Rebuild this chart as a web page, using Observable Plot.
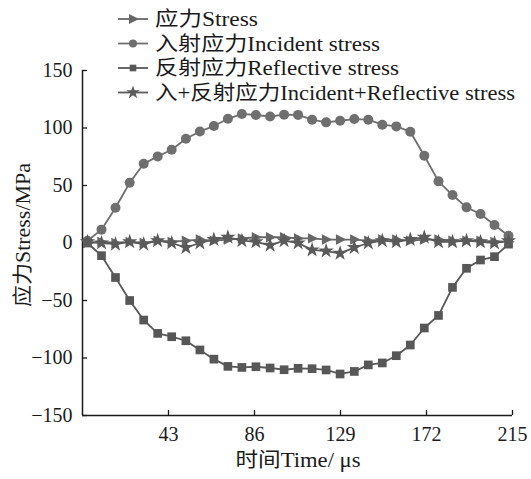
<!DOCTYPE html>
<html>
<head>
<meta charset="utf-8">
<script src="https://cdn.jsdelivr.net/npm/d3@7"></script>
<script src="https://cdn.jsdelivr.net/npm/@observablehq/plot@0.6"></script>
<style>
  html, body { margin: 0; padding: 0; background: #fff; }
  #chart { position: relative; width: 531px; height: 479px; }
</style>
</head>
<body>
<div id="chart"></div>
<script>
// ---- data ----
const time = [2.5, 9.5, 16.5, 23.6, 30.6, 37.6, 44.6, 51.7, 58.7, 65.7, 72.7, 79.7, 86.7, 93.8, 100.8, 107.8,
  114.8, 121.8, 128.8, 135.9, 142.9, 149.9, 156.9, 163.9, 170.9, 178.0, 185.0, 192.0, 199.0, 206.0, 213.0];
const stress = [0, 1, 0, 1, 0, 2, 1, 2, 3, 2, 3, 4, 5, 5, 5, 4, 4, 3, 3, 3, 2, 3, 3, 2, 3, 3, 2, 2, 2, 1, 1];
const incident = [2, 11.6, 30.7, 52.4, 68.9, 75.3, 81.1, 90.7, 97, 101.7, 108, 112.2, 111.3, 110, 111.6, 111.4,
  107.2, 104.9, 106.3, 107.8, 107.2, 102.9, 101.4, 96.8, 75.9, 53.6, 41.7, 31, 25.2, 15.7, 6.3];
const reflective = [0, -11, -30, -50, -67, -78.6, -81.5, -85, -93, -101, -107.3, -108.2, -107.6, -108.7, -110.2, -109,
  -109.3, -110.4, -113.9, -111.7, -106, -104.3, -98, -88.7, -73.9, -63, -38.6, -22, -14.8, -11.9, -1];
const incidentPlusReflective = [1, 0, -1, 1, -1, 2, 0, -4, 0, 3, 5, 2, 1, -2, 2, 0, -6, -7, -9, -4, 0, 2, 1, 3, 5, 1, 1, 2, 1, 0, 2];

const xTicks = [43, 86, 129, 172, 215];
const yTicks = [-150, -100, -50, 0, 50, 100, 150];
const legendLabels = ["应力Stress", "入射应力Incident stress", "反射应力Reflective stress", "入+反射应力Incident+Reflective stress"];
const xLabel = "时间Time/ μs";
const yLabel = "应力Stress/MPa";

// ---- styling ----
const font = "'Liberation Serif', 'DejaVu Serif', 'Noto Sans CJK SC', serif";
const fs = 20;
const cStress = "#676767", cInc = "#6f6f6f", cRef = "#575757", cSum = "#5a5a5a";

const triRight = {
  draw(ctx, size) {
    const s = Math.sqrt(size / Math.PI);
    ctx.moveTo(1.2 * s, 0);
    ctx.lineTo(-0.8 * s, -s);
    ctx.lineTo(-0.8 * s, s);
    ctx.closePath();
  }
};

const rows = time.map((t, i) => ({
  t, stress: stress[i], incident: incident[i], reflective: reflective[i], sum: incidentPlusReflective[i]
}));

const series = [
  {key: "incident", color: cInc, symbol: "circle", r: 5},
  {key: "reflective", color: cRef, symbol: "square", r: 4.9},
  {key: "stress", color: cStress, symbol: triRight, r: 5.2},
  {key: "sum", color: cSum, symbol: "star", r: 4.8}
];

const marks = [];
for (const s of series) {
  marks.push(Plot.line(rows, {x: "t", y: s.key, stroke: s.color, strokeWidth: 1.8}));
  marks.push(Plot.dot(rows, {x: "t", y: s.key, symbol: s.symbol, r: s.r, fill: s.color, stroke: "none"}));
}

const plot = Plot.plot({
  width: 531,
  height: 479,
  marginLeft: 82,
  marginRight: 19,
  marginTop: 70,
  marginBottom: 64,
  style: {fontFamily: font, fontSize: fs + "px", color: "#1a1a1a", background: "#fff", overflow: "visible"},
  x: {domain: [0, 215]},
  y: {domain: [-150, 150]},
  marks: [
    Plot.axisX({ticks: xTicks, tickSize: -5, tickPadding: 16, label: null, fontSize: fs, strokeWidth: 1.3}),
    Plot.axisY({ticks: yTicks, tickSize: -5, tickPadding: 15, label: null, fontSize: fs, strokeWidth: 1.3}),
    Plot.ruleX([0], {stroke: "#1a1a1a", strokeWidth: 1.5}),
    Plot.ruleY([-150], {stroke: "#1a1a1a", strokeWidth: 1.5}),
    ...marks,
    // start-anchored so the widened text runs from a fixed point
    Plot.text([yLabel], {frameAnchor: "left", text: d => d, rotate: -90, textAnchor: "start", dx: -59, dy: 64, fontSize: fs, fill: "#1a1a1a"}),
    Plot.text([xLabel], {frameAnchor: "bottom", text: d => d, textAnchor: "start", dx: -62, dy: 51, fontSize: fs, fill: "#1a1a1a"})
  ]
});

// widen the axis titles to the reference's wider typeface
d3.select(plot).selectAll("text").each(function () {
  const t = this.textContent;
  if (t === yLabel) d3.select(this).attr("textLength", 144).attr("lengthAdjust", "spacingAndGlyphs");
  if (t === xLabel) d3.select(this).attr("textLength", 125).attr("lengthAdjust", "spacingAndGlyphs");
});

const chart = document.getElementById("chart");
chart.appendChild(plot);

// ---- legend (overlay) ----
const legendItems = [
  {label: legendLabels[0], color: cStress, symbol: triRight, size: Math.PI * 25, len: 103},
  {label: legendLabels[1], color: cInc, symbol: d3.symbolCircle, size: Math.PI * 16, len: 225},
  {label: legendLabels[2], color: cRef, symbol: d3.symbolSquare, size: Math.PI * 14, len: 244},
  {label: legendLabels[3], color: cSum, symbol: d3.symbolStar, size: Math.PI * 18, len: 360}
];
const rowY = [19, 43.5, 68, 92.5];
const lg = d3.create("svg")
  .attr("width", 531).attr("height", 479)
  .style("position", "absolute").style("left", "0px").style("top", "0px")
  .style("pointer-events", "none");
legendItems.forEach((it, i) => {
  const g = lg.append("g").attr("transform", `translate(0,${rowY[i]})`);
  g.append("line").attr("x1", 118).attr("x2", 148).attr("y1", 0).attr("y2", 0)
    .attr("stroke", it.color).attr("stroke-width", 1.8);
  g.append("path").attr("transform", "translate(133,0)")
    .attr("d", d3.symbol(it.symbol, it.size)()).attr("fill", it.color);
  g.append("text").attr("x", 155).attr("y", 0).attr("dy", "0.35em")
    .style("font-family", font).attr("font-size", fs).attr("fill", "#1a1a1a")
    .attr("textLength", it.len).attr("lengthAdjust", "spacingAndGlyphs")
    .text(it.label);
});
chart.appendChild(lg.node());
</script>
</body>
</html>
